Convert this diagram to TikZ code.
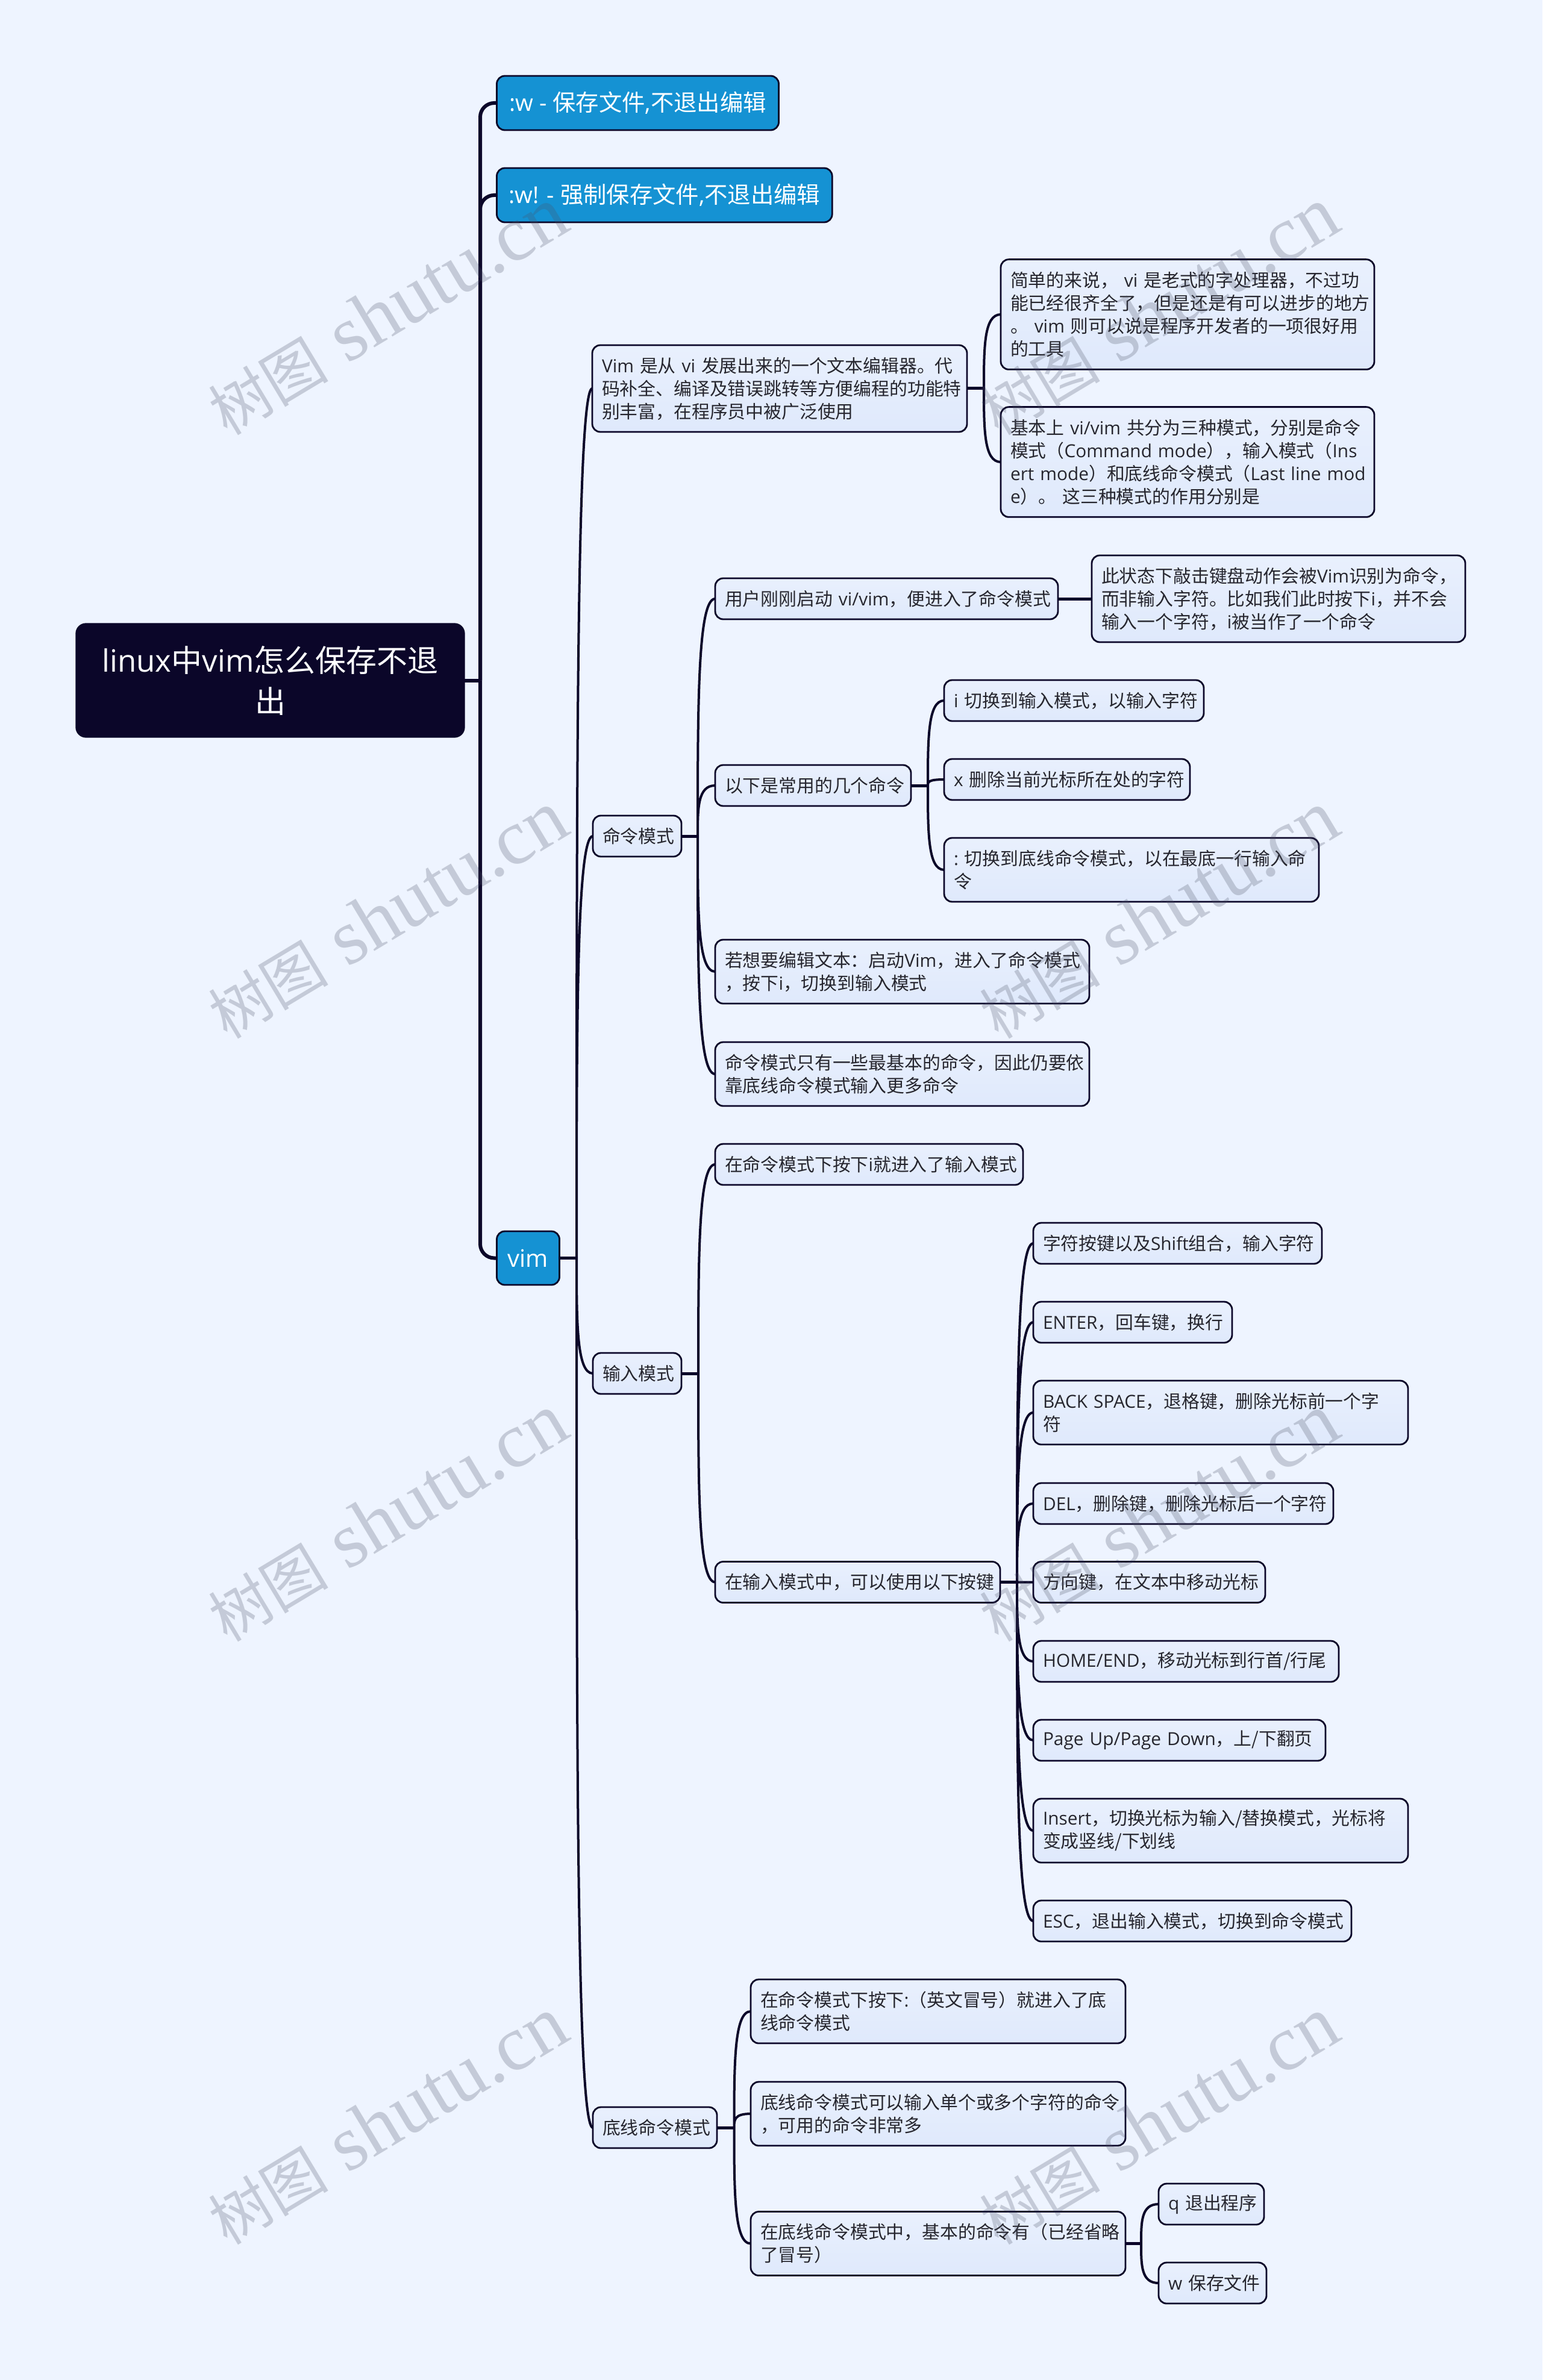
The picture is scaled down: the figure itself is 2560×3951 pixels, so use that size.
\documentclass[tikz,border=0pt]{standalone}
\usepackage{fontspec}
\usepackage{tikz}
\usetikzlibrary{calc}
\setmainfont{Noto Sans CJK SC}
\newfontfamily\enfont{Open Sans}
\newfontfamily\wmfont{Liberation Serif}
\newcommand{\en}[1]{{\enfont #1}}
\newcommand{\wmtext}{树图{\wmfont\fontsize{39pt}{39pt}\selectfont\ shutu.cn}}
\definecolor{bgcol}{HTML}{EEF4FF}
\definecolor{inkcol}{HTML}{0B0629}
\definecolor{textcol}{HTML}{26262E}
\definecolor{bluecol}{HTML}{1592D3}
\definecolor{leaftop}{HTML}{E9F0FD}
\definecolor{leafbot}{HTML}{DFE9FC}
\definecolor{wmcol}{HTML}{4A5064}

\begin{document}
\begin{tikzpicture}[x=0.3pt,y=-0.3pt,
  leaf/.style={draw=inkcol,line width=0.85pt,rounded corners=4pt,top color=leaftop,bottom color=leafbot,
    anchor=west,align=left,inner xsep=4.8pt,inner ysep=0pt,outer sep=0pt,text=textcol,
    font=\fontsize{8.95pt}{11.4pt}\selectfont},
  oneline/.style={minimum height=20.4pt},
  twolines/.style={minimum height=31.8pt},
  threelines/.style={minimum height=43.2pt},
  fourlines/.style={minimum height=54.8pt},
  topic/.style={draw=inkcol,line width=0.85pt,rounded corners=4pt,fill=bluecol,anchor=west,
    inner sep=0pt,outer sep=0pt,text=white,font=\fontsize{11.5pt}{14pt}\selectfont},
  rootbox/.style={draw=inkcol,rounded corners=5pt,fill=inkcol,anchor=west,align=center,
    inner xsep=4.8pt,inner ysep=0pt,outer sep=0pt,text=white,font=\fontsize{15.3pt}{20.4pt}\selectfont},
  mainlink/.style={draw=inkcol,line width=1.8pt},
  stublink/.style={draw=inkcol,line width=1.5pt},
  midlink/.style={draw=inkcol,line width=1.2pt},
  curvedlink/.style={to path={.. controls ($(\tikztostart)!0.55!(\tikztostart|-\tikztotarget)$) and (\tikztostart|-\tikztotarget) .. (\tikztotarget)}},
  watermark/.style={rotate=31,text=wmcol,opacity=0.25,inner sep=0pt,font=\fontsize{30pt}{30pt}\selectfont}]

% Background
\useasboundingbox[fill=bgcol] (0,0) rectangle (2560,3951);

% Root and first level
\node (root) [rootbox,text width=183.9pt,minimum height=56.7pt] at (126,1129.5) {\en{linux}中\en{vim}怎么保存不退\\出};
\node (save) [topic,minimum width=140.4pt,minimum height=27pt] at (824.5,171) {\en{:w - }保存文件\en{,}不退出编辑};
\node (force) [topic,minimum width=167pt,minimum height=27pt] at (824.5,324) {\en{:w! - }强制保存文件\en{,}不退出编辑};
\node (vim) [topic,minimum width=31.2pt,minimum height=26.7pt] at (824.5,2088.5) {\fontsize{12pt}{14pt}\selectfont\en{vim}};

% Vim description
\node (desc) [leaf,threelines,text width=177pt] at (983,645) {\en{Vim~}是从\en{~vi~}发展出来的一个文本编辑器。代\\码补全、编译及错误跳转等方便编程的功能特\\别丰富，在程序员中被广泛使用};
\node (simple) [leaf,fourlines,text width=176.4pt] at (1661,522) {简单的来说，\en{~vi~}是老式的字处理器，不过功\\能已经很齐全了，但是还是有可以进步的地方\\。\en{~vim~}则可以说是程序开发者的一项很好用\\的工具};
\node (basic) [leaf,fourlines,text width=176.4pt] at (1661,767) {基本上\en{~vi/vim~}共分为三种模式，分别是命令\\模式（\en{Command~mode}），输入模式（\en{Ins}\\\en{ert~mode}）和底线命令模式（\en{Last~line~mod}\\\en{e}）。~这三种模式的作用分别是};

% Command mode
\node (cmd) [leaf,oneline,text width=34.5pt] at (984,1388) {命令模式};
\node (start) [leaf,oneline,text width=161.1pt] at (1187,994) {用户刚刚启动\en{~vi/vim}，便进入了命令模式};
\node (state) [leaf,threelines,text width=176.4pt] at (1812,994) {此状态下敲击键盘动作会被\en{Vim}识别为命令，\\而非输入字符。比如我们此时按下\en{i}，并不会\\输入一个字符，\en{i}被当作了一个命令};
\node (common) [leaf,oneline,text width=87.9pt] at (1187,1304) {以下是常用的几个命令};
\node (cmdi) [leaf,oneline,text width=119.7pt] at (1567,1163) {\en{i~}切换到输入模式，以输入字符};
\node (cmdx) [leaf,oneline,text width=112.8pt] at (1567,1294) {\en{x~}删除当前光标所在处的字符};
\node (cmdcolon) [leaf,twolines,text width=177pt] at (1567,1444) {\en{:~}切换到底线命令模式，以在最底一行输入命\\令};
\node (edit) [leaf,twolines,text width=176.7pt] at (1187,1613) {若想要编辑文本：启动\en{Vim}，进入了命令模式\\，按下\en{i}，切换到输入模式};
\node (only) [leaf,twolines,text width=176.7pt] at (1187,1783) {命令模式只有一些最基本的命令，因此仍要依\\靠底线命令模式输入更多命令};

% Input mode
\node (input) [leaf,oneline,text width=34.5pt] at (984,2280) {输入模式};
\node (enter) [leaf,oneline,text width=143.7pt] at (1187,1933) {在命令模式下按下\en{i}就进入了输入模式};
\node (keys) [leaf,oneline,text width=132.3pt] at (1187,2626.5) {在输入模式中，可以使用以下按键};
\node (keychar) [leaf,oneline,text width=134.1pt] at (1715,2064) {字符按键以及\en{Shift}组合，输入字符};
\node (keyenter) [leaf,oneline,text width=89.4pt] at (1715,2195) {\en{ENTER}，回车键，换行};
\node (keyback) [leaf,twolines,text width=177pt] at (1715,2345) {\en{BACK~SPACE}，退格键，删除光标前一个字\\符};
\node (keydel) [leaf,oneline,text width=139.8pt] at (1715,2496) {\en{DEL}，删除键，删除光标后一个字符};
\node (keyarrow) [leaf,oneline,text width=105.9pt] at (1715,2626.5) {方向键，在文本中移动光标};
\node (keyhome) [leaf,oneline,text width=142.5pt] at (1715,2758) {\en{HOME/END}，移动光标到行首/行尾};
\node (keypage) [leaf,oneline,text width=135.9pt] at (1715,2889) {\en{Page~Up/Page~Down}，上/下翻页};
\node (keyins) [leaf,twolines,text width=177pt] at (1715,3039) {\en{Insert}，切换光标为输入/替换模式，光标将\\变成竖线/下划线};
\node (keyesc) [leaf,oneline,text width=148.8pt] at (1715,3189) {\en{ESC}，退出输入模式，切换到命令模式};

% Last line mode
\node (last) [leaf,oneline,text width=52.2pt] at (984,3532) {底线命令模式};
\node (lastenter) [leaf,twolines,text width=177pt] at (1246,3339) {在命令模式下按下\en{:}（英文冒号）就进入了底\\线命令模式};
\node (lastmany) [leaf,twolines,text width=177pt] at (1246,3509) {底线命令模式可以输入单个或多个字符的命令\\，可用的命令非常多};
\node (lastbasic) [leaf,twolines,text width=177pt] at (1246,3724.5) {在底线命令模式中，基本的命令有（已经省略\\了冒号）};
\node (quit) [leaf,oneline,text width=42.9pt] at (1923,3659) {\en{q~}退出程序};
\node (wsave) [leaf,oneline,text width=44.1pt] at (1923,3790) {\en{w~}保存文件};

% Joints
\coordinate (hubroot) at (797,1129.5);
\coordinate (hubvim) at (957,2088.5);
\coordinate (hubdesc) at (1633,645);
\coordinate (hubcmd) at (1158,1388);
\coordinate (hubcommon) at (1540,1304);
\coordinate (hubinput) at (1159,2280);
\coordinate (hubkeys) at (1688,2626.5);
\coordinate (hublast) at (1218.5,3532);
\coordinate (hubbasic) at (1894,3724.5);

% Main links
\draw [mainlink] (root.east) -- (hubroot);
\draw [mainlink,rounded corners=7pt] (hubroot) |- (save.west);
\draw [mainlink,rounded corners=7pt] (hubroot) |- (force.west);
\draw [mainlink,rounded corners=7pt] (hubroot) |- (vim.west);

% Links of vim
\draw [stublink] (vim.east) -- (hubvim);
\draw [midlink,curvedlink] (hubvim) to (desc.west) (hubvim) to (cmd.west) (hubvim) to (input.west) (hubvim) to (last.west);

% Links of description
\draw [stublink] (desc.east) -- (hubdesc);
\draw [midlink,curvedlink] (hubdesc) to (simple.west) (hubdesc) to (basic.west);

% Links of command mode
\draw [stublink] (cmd.east) -- (hubcmd);
\draw [midlink,curvedlink] (hubcmd) to (start.west) (hubcmd) to (common.west) (hubcmd) to (edit.west) (hubcmd) to (only.west);
\draw [stublink] (start.east) -- (state.west);
\draw [stublink] (common.east) -- (hubcommon);
\draw [midlink,curvedlink] (hubcommon) to (cmdi.west) (hubcommon) to (cmdx.west) (hubcommon) to (cmdcolon.west);

% Links of input mode
\draw [stublink] (input.east) -- (hubinput);
\draw [midlink,curvedlink] (hubinput) to (enter.west) (hubinput) to (keys.west);
\draw [stublink] (keys.east) -- (hubkeys);
\draw [midlink,curvedlink] (hubkeys) to (keychar.west) (hubkeys) to (keyenter.west) (hubkeys) to (keyback.west) (hubkeys) to (keydel.west) (hubkeys) to (keyarrow.west) (hubkeys) to (keyhome.west) (hubkeys) to (keypage.west) (hubkeys) to (keyins.west) (hubkeys) to (keyesc.west);

% Links of last line mode
\draw [stublink] (last.east) -- (hublast);
\draw [midlink,curvedlink] (hublast) to (lastenter.west) (hublast) to (lastmany.west) (hublast) to (lastbasic.west);
\draw [stublink] (lastbasic.east) -- (hubbasic);
\draw [midlink,curvedlink] (hubbasic) to (quit.west) (hubbasic) to (wsave.west);

% Watermarks
\node (markA) [watermark] at (643,517) {\wmtext};
\node (markB) [watermark] at (1923,517) {\wmtext};
\node (markC) [watermark] at (643,1519) {\wmtext};
\node (markD) [watermark] at (1923,1519) {\wmtext};
\node (markE) [watermark] at (643,2520) {\wmtext};
\node (markF) [watermark] at (1923,2520) {\wmtext};
\node (markG) [watermark] at (643,3521) {\wmtext};
\node (markH) [watermark] at (1923,3521) {\wmtext};

\end{tikzpicture}
\end{document}
